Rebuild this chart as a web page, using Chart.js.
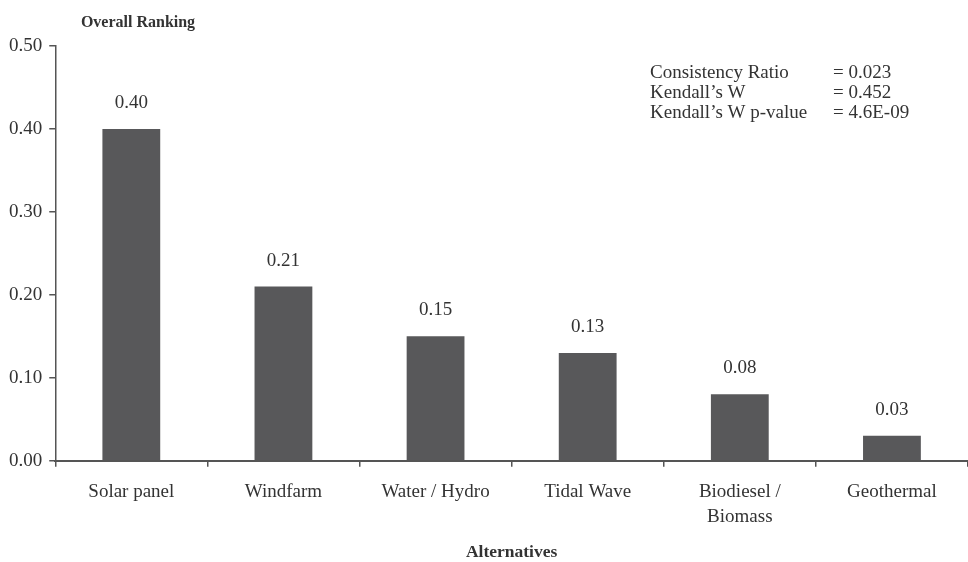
<!DOCTYPE html>
<html>
<head>
<meta charset="utf-8">
<script src="https://cdn.jsdelivr.net/npm/chart.js@4.4.0/dist/chart.umd.min.js"></script>
<style>
  html, body { margin: 0; padding: 0; background: #fff; }
  #wrap { width: 968px; height: 562px; }
</style>
</head>
<body>
<div id="wrap"><canvas id="chart" width="968" height="562"></canvas></div>
<script>
var categories = ['Solar panel', 'Windfarm', 'Water / Hydro', 'Tidal Wave', ['Biodiesel /', 'Biomass'], 'Geothermal'];
var rankings = [0.40, 0.21, 0.15, 0.13, 0.08, 0.03];
var yTicks = [0, 0.1, 0.2, 0.3, 0.4, 0.5];
var statNames = ['Consistency Ratio', 'Kendall\u2019s W', 'Kendall\u2019s W p-value'];
var statValues = ['= 0.023', '= 0.452', '= 4.6E-09'];

var serif = '"Liberation Serif", "DejaVu Serif", serif';
var textColor = '#333333';
var barColor = '#58585a';

// value labels over bars + stats box + axis titles
var extras = {
  id: 'extras',
  afterDatasetsDraw: function(chart) {
    var ctx = chart.ctx;
    var area = chart.chartArea;
    ctx.save();
    ctx.fillStyle = textColor;
    ctx.font = '19px ' + serif;
    ctx.textAlign = 'center';
    ctx.textBaseline = 'middle';
    chart.getDatasetMeta(0).data.forEach(function(bar, i) {
      ctx.fillText(rankings[i].toFixed(2), bar.x, bar.y - 26);
    });

    ctx.textAlign = 'left';
    statNames.forEach(function(name, i) {
      ctx.fillText(name, 650, 73 + i * 20);
      ctx.fillText(statValues[i], 833, 73 + i * 20);
    });

    ctx.font = 'bold 16px ' + serif;
    ctx.textAlign = 'center';
    ctx.fillText('Overall Ranking', 138, 23);
    ctx.font = 'bold 17.5px ' + serif;
    ctx.fillText('Alternatives', (area.left + area.right) / 2, 552);
    ctx.restore();
  }
};

var ctx = document.getElementById('chart').getContext('2d');
var chart = new Chart(ctx, {
  type: 'bar',
  data: {
    labels: categories,
    datasets: [{
      data: rankings,
      backgroundColor: barColor,
      borderWidth: 0,
      categoryPercentage: 1,
      barPercentage: 0.38
    }]
  },
  options: {
    responsive: false,
    animation: false,
    layout: { padding: { top: 46, right: 0, bottom: 20, left: 2 } },
    plugins: { legend: { display: false }, tooltip: { enabled: false } },
    scales: {
      x: {
        offset: true,
        border: { color: '#555', width: 2 },
        grid: { offset: true, drawOnChartArea: false, tickLength: 6, color: '#555', lineWidth: 1.5 },
        ticks: { color: textColor, font: { family: serif, size: 19, lineHeight: 1.35 }, padding: 12, maxRotation: 0 }
      },
      y: {
        min: 0,
        max: 0.5,
        afterBuildTicks: function(axis) {
          axis.ticks = yTicks.map(function(v) { return { value: v }; });
        },
        border: { color: '#555', width: 1.5 },
        grid: { drawOnChartArea: false, tickLength: 6, color: '#555', lineWidth: 1.5 },
        ticks: {
          color: textColor,
          font: { family: serif, size: 19 },
          padding: 7,
          callback: function(v) { return Number(v).toFixed(2); }
        }
      }
    }
  },
  plugins: [extras]
});
</script>
</body>
</html>
